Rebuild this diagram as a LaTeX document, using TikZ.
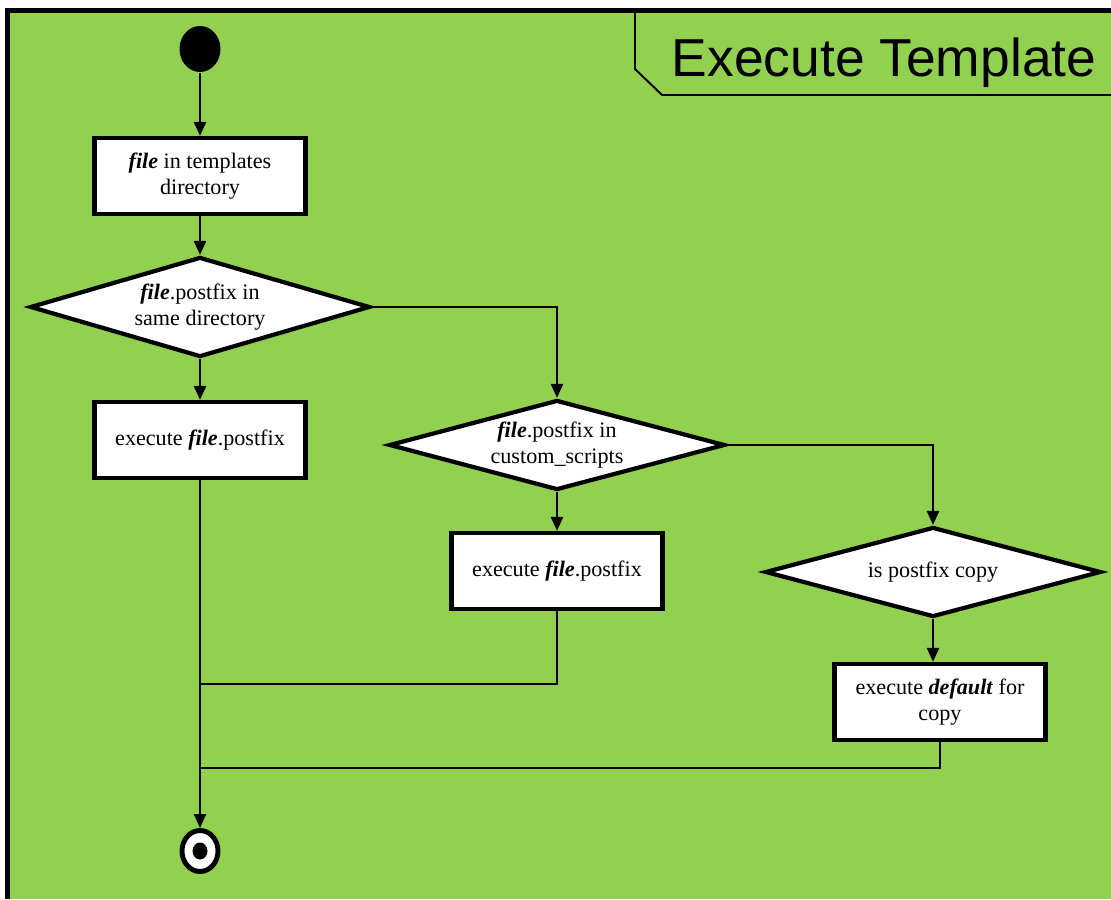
\documentclass[tikz,border=0pt]{standalone}
\usepackage{fontspec}
\setmainfont{Liberation Serif}
\newfontfamily\titlefont{Liberation Sans}
\usetikzlibrary{arrows.meta, shapes.geometric}
\definecolor{cgreen}{HTML}{92D050}
\tikzset{
  every picture/.style={line width=1.4pt},
  box/.style={draw, fill=white, line width=2.4pt, align=center, inner sep=4pt,
    minimum width=4.22cm, minimum height=1.52cm, font=\fontsize{12.6}{14.4}\selectfont},
  decision/.style={diamond, draw, fill=white, line width=2.4pt, align=center, inner sep=0pt,
    aspect=3.6, minimum width=6.72cm, minimum height=1.8cm, font=\fontsize{12.6}{14.4}\selectfont},
  arrow/.style={-{Triangle[length=0.28cm, width=0.24cm]}},
  startnode/.style={ellipse, fill=black, minimum width=0.82cm, minimum height=0.92cm, inner sep=0pt},
  stopnode/.style={ellipse, draw, fill=white, line width=2.8pt, minimum width=0.72cm, minimum height=0.82cm,
    inner sep=0pt, path picture={\fill[black] (path picture bounding box.center) ellipse (0.15cm and 0.17cm);}},
}
\newcommand{\fname}[1]{\textbf{\textit{#1}}}

\begin{document}
\begin{tikzpicture}[x=0.02cm, y=-0.02cm]
  \useasboundingbox (0,0) rectangle (1111,899);
  % background and frame
  \fill[white] (0,0) rectangle (1111,899);
  \fill[cgreen] (7.5,10.5) rectangle (1111,899);
  \draw[line width=3.1pt] (7.5,899) -- (7.5,10.5) -- (1111,10.5);
  % title tab
  \draw[line width=1.1pt] (635,13) -- (635,69) -- (662,95) -- (1111,95);
  \node[font=\titlefont\fontsize{30.4}{36}\selectfont] (title) at (884,63) {Execute Template};
  % nodes
  \node[startnode] (start) at (200,49) {};
  \node[box] (infile) at (200,176) {\fname{file} in templates\\directory};
  \node[decision, minimum height=2cm, aspect=3.4, minimum width=6.8cm] (samedir) at (200,307) {\fname{file}.postfix in\\same directory};
  \node[box] (execsame) at (200,440) {execute \fname{file}.postfix};
  \node[decision] (custom) at (557,445) {\fname{file}.postfix in\\custom\_scripts};
  \node[box] (execcustom) at (557,571) {execute \fname{file}.postfix};
  \node[decision] (chkcopy) at (933,572) {is postfix copy};
  \node[box] (defcopy) at (940,702) {execute \fname{default} for\\copy};
  \node[stopnode] (stop) at (200,851) {};
  \coordinate (join1) at (200,684);
  \coordinate (join2) at (200,768);
  % connectors
  \draw[arrow] (start) -- (infile);
  \draw[arrow] (infile) -- (samedir);
  \draw[arrow] (samedir) -- (execsame);
  \draw[arrow] (samedir.east) -| (custom.north);
  \draw[arrow] (custom) -- (execcustom);
  \draw[arrow] (custom.east) -| (chkcopy.north);
  \draw[arrow] (chkcopy.south) -- (chkcopy.south |- defcopy.north);
  \draw[arrow] (execsame) -- (stop);
  \draw (execcustom.south) |- (join1);
  \draw (defcopy.south) |- (join2);
\end{tikzpicture}
\end{document}
